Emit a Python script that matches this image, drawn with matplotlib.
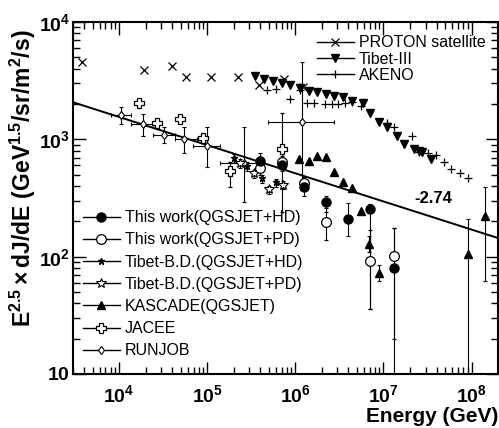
import numpy as np
import matplotlib
matplotlib.use('Agg')
import matplotlib.pyplot as plt
from matplotlib.lines import Line2D
from matplotlib.ticker import FixedLocator, LogLocator, NullFormatter, FixedFormatter

plt.rcParams['font.family'] = ['Liberation Sans', 'DejaVu Sans']
plt.rcParams['mathtext.fontset'] = 'custom'
plt.rcParams['mathtext.rm'] = 'Liberation Sans:bold'
plt.rcParams['mathtext.bf'] = 'Liberation Sans:bold'
plt.rcParams['mathtext.it'] = 'Liberation Sans:bold'
plt.rcParams['mathtext.default'] = 'bf'

# ---- data ----
proton_E = [3.8e3, 1.92e4, 4.0e4, 5.8e4, 1.11e5, 2.25e5, 3.9e5, 7.5e5, 1.23e6]
proton_F = [4550, 3890, 4210, 3390, 3390, 3390, 2890, 3250, 2780]

tibet3_E = [3.5e5, 4.45e5, 5.6e5, 7.1e5, 8.8e5, 1.14e6, 1.41e6, 1.78e6, 2.25e6, 2.77e6, 3.5e6,
            4.45e6, 5.8e6, 7.1e6, 8.8e6, 1.11e7, 1.41e7, 1.73e7, 2.2e7, 2.5e7, 2.77e7, 3.5e7]
tibet3_F = [3450, 3260, 3130, 3010, 2900, 2730, 2570, 2520, 2430, 2330, 2290,
            2110, 2030, 1680, 1400, 1270, 1060, 920, 820, 790, 775, 675]

akeno_E = [4.8e5, 6.1e5, 8.8e5, 1.14e6, 1.37e6, 1.64e6, 2.19e6, 2.63e6, 3.08e6, 3.7e6, 4.44e6,
           5.5e6, 1.11e7, 1.33e7, 2.08e7, 2.56e7, 3.16e7, 3.9e7, 4.8e7, 5.9e7, 7.3e7, 9.0e7]
akeno_F = [2620, 2670, 2200, 2620, 2030, 2030, 1990, 1990, 1990, 2030, 2070,
           1910, 1370, 1270, 1060, 775, 760, 730, 635, 555, 512, 464]

runjob_E = [1.05e4, 1.87e4, 3.24e4, 5.5e4, 1.0e5, 2.63e5, 1.2e6]
runjob_Elo = [8.1e3, 1.37e4, 2.43e4, 4.33e4, 6.9e4, 1.41e5, 4.9e5]
runjob_Ehi = [1.37e4, 2.43e4, 4.33e4, 7.7e4, 1.41e5, 4.2e5, 2.77e6]
runjob_F = [1600, 1340, 1080, 1000, 870, 624, 1400]
runjob_Flo = [1340, 1060, 925, 760, 577, 290, 370]
runjob_Fhi = [1880, 1640, 1270, 1270, 1270, 1270, 4550]

jacee_E = [1.69e4, 2.7e4, 4.93e4, 9.0e4, 1.82e5, 7.1e5]
jacee_F = [2030, 1370, 1480, 1020, 532, 822]
jacee_Flo = [2030, 1370, 1480, 940, 389, 238]
jacee_Fhi = [2030, 1370, 1480, 1100, 635, 1670]

hd_E = [4.0e5, 7.1e5, 1.26e6, 2.25e6, 4.0e6, 7.1e6, 1.3e7]
hd_F = [649, 600, 389, 295, 210, 257, 80]
hd_Flo = [560, 540, 330, 240, 151, 36, 5]
hd_Fhi = [760, 680, 450, 330, 284, 280, 177]

pd_E = [4.0e5, 7.1e5, 1.26e6, 2.25e6, 7.1e6, 1.3e7]
pd_F = [565, 635, 428, 199, 92, 102]
pd_Flo = [500, 560, 380, 140, 36, 20]
pd_Fhi = [640, 720, 480, 260, 170, 177]

bdhd_E = [2.03e5, 2.85e5, 4.2e5, 6.1e5]
bdhd_F = [689, 588, 464, 429]
bdpd_E = [2.37e5, 3.42e5, 5.07e5, 7.3e5]
bdpd_F = [624, 512, 374, 412]

kas_E = [1.11e6, 1.41e6, 1.78e6, 2.25e6, 2.77e6, 3.5e6, 4.44e6, 5.5e6, 6.9e6, 8.8e6, 9.0e7, 1.41e8]
kas_F = [675, 649, 716, 702, 522, 429, 381, 247, 127, 72, 106, 224]
kas_Flo = [675, 649, 716, 702, 522, 429, 381, 247, 110, 62, 5, 62]
kas_Fhi = [675, 649, 716, 702, 522, 429, 381, 247, 150, 85, 211, 396]

line_E = [3.0e3, 2.0e8]
line_F = [2070, 144]

def yerr(F, lo, hi):
    F = np.array(F); return [F - np.array(lo), np.array(hi) - F]

fig = plt.figure(figsize=(4.99, 4.28), dpi=100)
ax = fig.add_axes([0.1463, 0.1262, 0.852, 0.8224])
ax.set_xscale('log'); ax.set_yscale('log')

eb = dict(ecolor='black', elinewidth=0.8, capsize=1.5, capthick=0.8, ls='none')

ax.plot(line_E, line_F, c='black', lw=1.4)

ax.plot(proton_E, proton_F, 'x', c='black', ms=6, mew=0.9, ls='none')
ax.plot(tibet3_E, tibet3_F, 'v', c='black', ms=5.5, ls='none')
ax.plot(akeno_E, akeno_F, '+', c='black', ms=6, mew=0.9, ls='none')

re = np.array(runjob_E)
ax.errorbar(runjob_E, runjob_F, yerr=yerr(runjob_F, runjob_Flo, runjob_Fhi),
            xerr=[re - np.array(runjob_Elo), np.array(runjob_Ehi) - re],
            marker='d', mfc='white', mec='black', ms=4.5, mew=0.8, **eb)
ax.errorbar(jacee_E, jacee_F, yerr=yerr(jacee_F, jacee_Flo, jacee_Fhi),
            marker='P', mfc='white', mec='black', ms=7, mew=0.9, **eb)
ax.errorbar(kas_E, kas_F, yerr=yerr(kas_F, kas_Flo, kas_Fhi),
            marker='^', mfc='black', mec='black', ms=5.5, **eb)
ax.errorbar(bdhd_E, bdhd_F, yerr=[np.array(bdhd_F) * 0.08, np.array(bdhd_F) * 0.08],
            marker='*', mfc='black', mec='black', ms=5, **eb)
ax.errorbar(bdpd_E, bdpd_F, yerr=[np.array(bdpd_F) * 0.08, np.array(bdpd_F) * 0.08],
            marker='*', mfc='white', mec='black', ms=7.5, mew=0.8, **eb)
ax.errorbar(pd_E, pd_F, yerr=yerr(pd_F, pd_Flo, pd_Fhi),
            marker='o', mfc='white', mec='black', ms=7, mew=0.9, **eb)
ax.errorbar(hd_E, hd_F, yerr=yerr(hd_F, hd_Flo, hd_Fhi),
            marker='o', mfc='black', mec='black', ms=6.5, **eb)

ax.text(3.7e7, 313, '-2.74', ha='center', va='center', fontsize=12, fontweight='bold')

ax.set_xlim(3.0e3, 2.0e8)
ax.set_ylim(10, 1e4)

ax.xaxis.set_major_locator(FixedLocator([1e4, 1e5, 1e6, 1e7, 1e8]))
ax.xaxis.set_major_formatter(FixedFormatter([r'$10^{4}$', r'$10^{5}$', r'$10^{6}$', r'$10^{7}$', r'$10^{8}$']))
ax.yaxis.set_major_locator(FixedLocator([10, 100, 1000, 10000]))
ax.yaxis.set_major_formatter(FixedFormatter([r'$10$', r'$10^{2}$', r'$10^{3}$', r'$10^{4}$']))
for a in (ax.xaxis, ax.yaxis):
    a.set_minor_locator(LogLocator(base=10, subs=np.arange(2, 10), numticks=20))
    a.set_minor_formatter(NullFormatter())
ax.tick_params(which='both', direction='in', top=True, right=True, width=1, labelsize=14)
ax.tick_params(which='major', length=9)
ax.tick_params(which='minor', length=5)
ax.tick_params(axis='x', pad=7)
ax.tick_params(axis='y', pad=2)
for s in ax.spines.values():
    s.set_linewidth(1.5)

ax.set_xlabel('Energy (GeV)', fontsize=15, fontweight='bold', ha='right', va='center')
ax.xaxis.set_label_coords(1.0, -0.122)
ax.set_ylabel(r'$E^{2.5}\times dJ/dE\ (GeV^{1.5}/sr/m^{2}/s)$', fontsize=16.5)
ax.yaxis.set_label_coords(-0.082, 0.555)

def h(marker, **kw):
    return Line2D([], [], color='black', lw=1, marker=marker, **kw)

top_h = [h('x', ms=6, mew=0.9), h('v', ms=5.5), h('+', ms=6, mew=0.9)]
top_l = ['PROTON satellite', 'Tibet-III', 'AKENO']
leg1 = ax.legend(top_h, top_l, loc='upper left', bbox_to_anchor=(0.574, 0.962), frameon=False,
                 fontsize=11.5, handlelength=2.3, handletextpad=0.3, labelspacing=0.08,
                 borderpad=0, borderaxespad=0)
ax.add_artist(leg1)

bot_h = [h('o', ms=6.5), h('o', ms=7, mfc='white', mew=0.9), h('*', ms=5),
         h('*', ms=7.5, mfc='white', mew=0.8), h('^', ms=5.5), h('P', ms=7, mfc='white', mew=0.9),
         h('d', ms=4.5, mfc='white', mew=0.8)]
bot_l = ['This work(QGSJET+HD)', 'This work(QGSJET+PD)', 'Tibet-B.D.(QGSJET+HD)',
         'Tibet-B.D.(QGSJET+PD)', 'KASCADE(QGSJET)', 'JACEE', 'RUNJOB']
ax.legend(bot_h, bot_l, loc='upper left', bbox_to_anchor=(0.0235, 0.465), frameon=False,
          fontsize=11.5, handlelength=2.3, handletextpad=0.3, labelspacing=0.45,
          borderpad=0, borderaxespad=0)

fig.savefig('out.png', dpi=100)
